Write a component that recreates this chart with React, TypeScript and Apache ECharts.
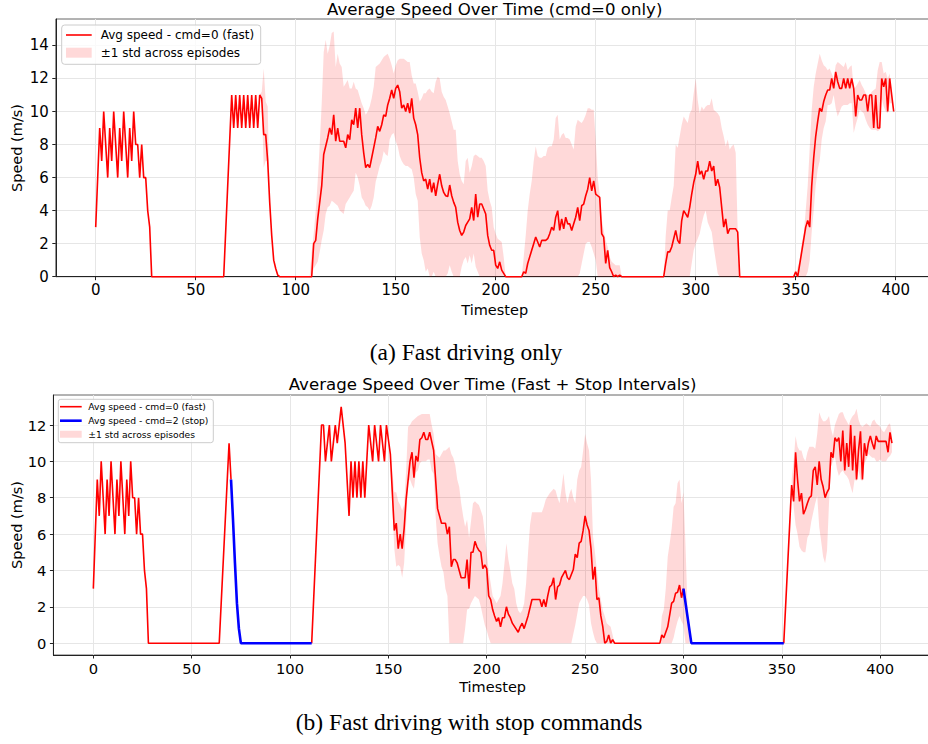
import React, { useEffect, useRef } from 'react';
import * as echarts from 'echarts';

const xTicks = [0, 50, 100, 150, 200, 250, 300, 350, 400];
const topYTicks = [0, 2, 4, 6, 8, 10, 12, 14];
const bottomYTicks = [0, 2, 4, 6, 8, 10, 12];

const topTitle = 'Average Speed Over Time (cmd=0 only)';
const bottomTitle = 'Average Speed Over Time (Fast + Stop Intervals)';
const captionA = '(a) Fast driving only';
const captionB = '(b) Fast driving with stop commands';
const legendFast = 'Avg speed - cmd=0 (fast)';
const legendStop = 'Avg speed - cmd=2 (stop)';
const legendStd = '±1 std across episodes';

// [timestep, speed]
const topFast = [
  [0,3],[1,6],[2,9],[3,7],[4,10],[5,8],[6,6],[7,9],[8,7],[9,10],[10,8],[11,6],[12,9],[13,7],[14,10],[15,8],[16,6],[17,9],[18,7],[19,10],[20,8],[21,8],[22,6],[23,8],[24,6],[25,6],[26,4],[27,3],[28,0],
  [64,0],[68,11],[69,9],[70,11],[71,9],[72,11],[73,9],[74,11],[75,9],[76,11],[77,9],[78,11],[79,9],[80,11],[81,9],[82,11],[83,10.8],[84,8.6],[85,8.6],[86,7],[87,4.5],[88,2.5],[89,1],[90,0.5],[91,0.1],[92,0],
  [108,0],[109,2],[110,2.2],[111,3.5],[112,4.5],[113,5.5],[114,7.4],[115,7.9],[116,8.4],[117,9],[118,8.6],[119,9.8],[120,8.2],[121,9],[122,8.2],[123,8.2],[124,8.2],[125,7.8],[126,8.6],[127,8.3],[128,9.5],[129,9.2],[130,10.2],[131,9],[132,10.2],[133,8.6],[134,7.5],[135,6.6],[136,6.8],[137,6.6],[138,7.2],[139,7.8],[140,8.4],[141,9.1],[142,8.8],[143,9.2],[144,9.8],[145,9.7],[146,10.4],[147,10.8],[148,11.3],[149,10.8],[150,11.4],[151,11.6],[152,11.2],[153,10.2],[154,10.4],[155,10],[156,10.5],[157,9.9],[158,10.8],[159,9.6],[160,9.2],[161,8.6],[162,7.2],[163,6.3],[164,5.8],[165,5.9],[166,5.3],[167,5.9],[168,5.1],[169,5.7],[170,4.9],[171,5.6],[172,6.2],[173,5.5],[174,5.1],[175,4.9],[176,4.85],[177,5.55],[178,4.9],[179,4.5],[180,4.2],[181,3.3],[182,2.8],[183,2.5],[184,2.7],[185,3.1],[186,3.3],[187,3.5],[188,4.2],[189,3.4],[190,5],[191,3.6],[192,4.4],[193,4.4],[194,4.1],[195,3.8],[196,2.5],[197,1.9],[198,1.6],[199,1.6],[200,0.7],[201,0.5],[202,0.9],[203,0.4],[204,0.2],[205,0],
  [213,0],[214,0.3],[215,0.2],[216,0.8],[217,1.2],[218,1.6],[219,2],[220,2.4],[221,2.1],[222,1.8],[223,2.2],[224,2.2],[225,2.2],[226,2.3],[227,2.6],[228,3],[229,2.8],[230,3.6],[231,4],[232,2.8],[233,3.5],[234,2.9],[235,3.6],[236,3.2],[237,3.2],[238,2.8],[239,3.2],[240,3.6],[241,4.2],[242,3.4],[243,4.3],[244,4.4],[245,4.9],[246,5.3],[247,6],[248,5.2],[249,5.8],[250,5],[251,4.9],[252,4.8],[253,2.6],[254,2.4],[255,0.8],[256,1.6],[257,0.55],[258,0.3],[259,0],[260,0.1],[261,0],[262,0.1],[263,0],
  [284,0],[285,0.8],[286,1.5],[287,1.5],[288,1.8],[289,2.3],[290,2.8],[291,2.2],[292,2],[293,3.4],[294,4],[295,3.8],[296,3.6],[297,4.2],[298,5],[299,5.7],[300,6.2],[301,7],[302,6.2],[303,6.4],[304,5.9],[305,6.4],[306,6.4],[307,7],[308,6.4],[309,6.7],[310,5.5],[311,5.9],[312,5.4],[313,4.2],[314,3],[315,3.5],[316,2.6],[317,2.9],[318,2.9],[319,2.9],[320,2.9],[321,2.7],[322,0],
  [349,0],[350,0.3],[351,0],[353,1.5],[355,3],[356,3.4],[357,3],[358,5.5],[359,7.2],[360,8.5],[361,9.4],[362,10.2],[363,10],[364,10.6],[365,11],[366,11.3],[367,11.3],[368,12],[369,11.4],[370,12.4],[371,11.8],[372,11.4],[373,11.4],[374,12],[375,11.4],[376,12],[377,11.4],[378,12],[379,11.4],[380,9.7],[381,11],[382,10.7],[383,10.7],[384,11],[385,11],[386,10],[387,11],[388,11],[389,9],[390,11],[391,9],[392,9],[393,12],[394,11.5],[395,12],[396,10],[397,12],[398,11],[399,10],
];

// [timestep, lower, upper]
const topBand1 = [[82,11,11],[83,10.6,11.2],[84,6.6,12.6],[85,7,10.6],[86,7,10.3],[87,4.5,4.6]];
const topBand2 = [
  [107,0,0],[108,0,1.5],[109,0.5,2.6],[110,0.7,4],[111,0.9,5.8],[112,1.5,8],[113,2.2,10.5],[114,2.8,13.6],[115,3.8,14.35],[116,4.2,13.5],[117,4.3,14],[118,4.6,14.75],[119,4.5,14.85],[120,4.4,12.7],[121,4.3,13.5],[122,4,12.9],[123,3.9,12.7],[124,3.8,11.5],[125,4.4,11.7],[126,4.6,11.9],[127,4.8,11.4],[128,5,11.4],[129,5.2,11.8],[130,6.3,11.4],[131,6,11.3],[132,5.5,10.9],[133,4.8,10.5],[134,4.6,10.2],[135,4.3,9.8],[136,4.2,10],[137,4,10.3],[138,4.3,10.8],[139,4.8,11.5],[140,5.75,12.7],[141,6.2,12.8],[142,6.7,12.9],[143,7,13.1],[144,7.6,13.3],[145,7.4,13.4],[146,7.3,13.5],[147,8.3,13.2],[148,8.6,12.8],[149,8.7,12.3],[150,8.2,12.8],[151,7.9,13.1],[152,7.3,13.2],[153,7,13.2],[154,6.8,13.2],[155,6.7,13.1],[156,6.7,13],[157,6.6,13],[158,6.5,12.2],[159,6,11.7],[160,5,11.7],[161,4.6,11.2],[162,2.4,10.6],[163,1.4,10.8],[164,1,11.1],[165,0.3,11.1],[166,0.5,11.3],[167,0,11.4],[168,0,11.2],[169,0.3,11.1],[170,0,11.8],[171,0,12.1],[172,0,12],[173,0,11.2],[174,0,10.9],[175,0,10.7],[176,0.2,10.3],[177,0.7,9.9],[178,0.3,9.4],[179,0,8.9],[180,0,8.9],[181,0,7],[182,0,6.2],[183,0.6,5.8],[184,1,5.6],[185,1.2,7],[186,0.8,7.2],[187,1.3,6.3],[188,0.8,6.7],[189,1.4,7.3],[190,0.6,7.4],[191,0.3,7.3],[192,0,7.2],[193,0,7.2],[194,0,7],[195,0,6.7],[196,0,5.2],[197,0,4.6],[198,0,4.2],[199,0,3],[200,0,2.6],[201,0,2.3],[202,0,2.2],[203,0,2.1],[204,0,1.2],[205,0,0],
];
const topBand3 = [
  [213,0,0],[214,0,1.2],[215,0,2.5],[216,0,4],[217,0,5],[218,0,5.8],[219,0,7],[220,0,7.9],[221,0,7.3],[222,0,7.2],[223,0,7.2],[224,0,7.3],[225,0,7.3],[226,0,7.8],[227,0,7.9],[228,0,7.9],[229,0,8.3],[230,0,9.6],[231,0,9.8],[232,0,8.3],[233,0,8.6],[234,0,8.7],[235,0,8.4],[236,0,8.4],[237,0,8.3],[238,0,8],[239,0,7.7],[240,0,9.1],[241,0,9.5],[242,0.2,9.4],[243,0.8,9.3],[244,1.4,9.5],[245,2,9.8],[246,2.1,10.2],[247,2.1,10.2],[248,1.8,10.1],[249,1.4,10.1],[250,1,8.3],[251,0,6],[252,0,5],[253,0,3.5],[254,0,2.8],[255,0,2.2],[256,0,1.8],[257,0,1.2],[258,0,0.9],[259,0,0.8],[260,0,0.7],[261,0,0.7],[262,0,0.7],[263,0,0],
];
const topBand4 = [
  [284,0,0],[285,0,2.5],[286,0,4],[287,0,4],[288,0,4.8],[289,0,5.5],[290,0,8],[291,0,7.8],[292,0,8.5],[293,0,9.2],[294,0,9.7],[295,0,9.5],[296,0,9.3],[297,0,9.9],[298,0.8,10.1],[299,1.6,11.1],[300,2,12],[301,2.3,10.7],[302,2.6,9.9],[303,3.2,10.3],[304,3.7,10.1],[305,4,10.3],[306,3.3,10.4],[307,3,10.4],[308,2.7,10.8],[309,1.8,10.1],[310,1,10],[311,0.2,9.9],[312,0,9.7],[313,0,9],[314,0,8.5],[315,0,7.9],[316,0,8.3],[317,0,7.7],[318,0,7.9],[319,0,8],[320,0,7.5],[321,0,2.7],[322,0,0],
];
const topBand5 = [
  [350,0,0],[351,0,0.6],[352,0,1],[353,0,2],[354,0,2.6],[355,0,4],[356,0.3,5.5],[357,1,7.8],[358,2.7,10.1],[359,4,11.5],[360,5.5,12.3],[361,6.5,12.9],[362,7,13.5],[363,8.3,13.1],[364,9,12.8],[365,9.4,12.7],[366,10.4,12.5],[367,10.4,12.6],[368,10.5,12.3],[369,11,12],[370,10.2,12.8],[371,9.7,13],[372,10,12.9],[373,10.3,12.8],[374,10.4,12.7],[375,10.4,13],[376,10.4,12.5],[377,10.5,12.7],[378,10.5,12.8],[379,8.7,11.3],[380,9.2,11.5],[381,9.6,11.7],[382,10.1,11.9],[383,10,11.6],[384,9.9,11.4],[385,9.5,11.1],[386,9.2,11],[387,9,11],[388,8.9,11.2],[389,8.9,11.3],[390,8.9,11.4],[391,8.8,12.5],[392,8.9,13],[393,10.8,13],[394,10.3,12.3],[395,10,12.4],[396,9.9,12],[397,10.5,12.3],[398,10.5,11.1],[399,9.9,10.1],
];

const bottomFast1 = [
  [0,3],[1,6],[2,9],[3,7],[4,10],[5,8],[6,6],[7,9],[8,7],[9,10],[10,8],[11,6],[12,9],[13,7],[14,10],[15,8],[16,6],[17,9],[18,7],[19,10],[20,8],[21,8],[22,6],[23,8],[24,6],[25,6],[26,4],[27,3],[28,0],[64,0],[69,11],[70,9],
];
const bottomStop1 = [[70,9],[71,6.8],[72,4.4],[73,2.2],[74,0.8],[75,0],[111,0]];
const bottomFast2 = [
  [111,0],[116,12],[117,12],[118,10],[120,12],[121,10],[123,12],[124,11],[126,13],[128,11],[130,7],[131,10],[132,8],[133,10],[134,8],[135,10],[136,8],[137,10],[138,8],[139,10],[140,12],[142,10],[143,12],[145,10],[146,12],[148,10],[149,12],[151,10.4],[152,8.3],[153,6.2],[154,6.6],[155,5.2],[156,6],[157,5.2],[158,6.3],[159,7.9],[161,10],[162,10.5],[163,9.1],[164,10.3],[165,10],[166,11.2],[167,11.3],[168,11.6],[169,11.2],[170,11.2],[171,11.6],[173,10.6],[174,9],[175,7.4],[177,6.6],[179,6.6],[180,6],[181,6.4],[182,4.2],[183,4.6],[184,4.6],[185,4.4],[187,3.6],[189,3.6],[190,4.6],[191,3],[192,5],[193,5],[194,5.6],[195,5.3],[196,5.1],[197,5],[198,4.1],[199,4.3],[200,4.1],[201,2.6],[202,2.4],[203,1.85],[204,1.5],[205,1.2],[206,1.4],[207,0.9],[208,1.4],[209,1.4],[210,2],[211,1.6],[212,1.4],[213,1.1],[216,0.6],[217,0.9],[218,1.1],[219,0.8],[221,1.5],[223,2.4],[227,2.4],[228,2],[229,2.4],[230,2],[231,2.6],[232,3.1],[233,3.2],[234,3.6],[235,2.4],[236,3.1],[237,3.2],[238,3.6],[240,4],[241,3.6],[242,3.5],[244,4.05],[245,4.9],[246,4.7],[247,5.5],[248,5.6],[249,6.2],[250,7],[251,6.5],[252,6.2],[253,5.2],[254,3.5],[255,4.2],[256,2.4],[257,2.5],[258,1.5],[259,0.9],[260,0],[261,0.1],[262,0.45],[263,0],[264,0.2],[265,0],[288,0],[289,0.45],[290,0.3],[292,0.9],[294,2.2],[295,2.3],[296,2.75],[297,2.8],[298,3.2],[299,2.5],[300,3],
];
const bottomStop2 = [[300,3],[304,0],[351,0]];
const bottomFast3 = [
  [351,0],[355,8.7],[356,7.8],[357,10.5],[358,9],[359,7.8],[360,8.25],[361,7.1],[362,7.35],[363,7.7],[364,8],[365,8.1],[366,9.5],[367,9.7],[368,8.7],[369,10],[370,9],[371,8.6],[372,8],[373,8.3],[374,8.5],[375,10.5],[376,10.2],[377,11.3],[378,11.1],[379,11.3],[380,10],[381,11.7],[382,9.5],[383,11],[384,9.7],[385,12],[386,9.5],[387,11.4],[388,9],[389,10.6],[390,11.65],[391,9],[392,11],[393,10.3],[394,11],[395,11.4],[396,11],[397,10.66],[398,11.4],[399,11.1],[401,11.1],[403,11.1],[404,10.5],[405,11.6],[406,11],
];

const bottomBand1 = [
  [151,10.4,10.4],[152,7.5,9.5],[153,5.2,8.3],[154,4.2,8.3],[155,4.3,7.8],[156,4.2,7.6],[157,3.6,7.3],[158,4.4,7.6],[159,6.5,9.5],[160,8.9,11.9],[161,9,12],[162,8.7,12.2],[163,8.5,12.3],[164,9.4,12.4],[165,9.5,12.5],[166,9.9,12.55],[167,10,12.6],[168,10,12.6],[169,10,12.6],[170,10.1,12.6],[171,10.1,12.6],[172,9.5,12],[173,9.3,11.5],[174,7,10.4],[175,5.5,10.3],[176,4.8,10.2],[177,4.2,10.4],[178,3.9,10.6],[179,3,10.6],[180,2.6,10.7],[181,0,10.8],[182,0,10.4],[183,0,10.2],[184,0,9.8],[185,0,9],[186,0,8.6],[187,0,7.7],[188,0,7],[189,0.8,6.4],[190,1.85,6.8],[191,1.9,5.8],[192,2.2,6.7],[193,2.4,7.7],[194,2.6,7.8],[195,2.5,7.7],[196,2.4,7.6],[197,2,7.3],[198,1.5,6.97],[199,1,6],[200,0.7,5],[201,0.3,4],[202,0,3.3],[203,0,2.6],[204,0,2.4],[205,0,2.2],[206,0,2.4],[207,0,2.6],[208,0,3.3],[209,0,4.4],[210,0,5.5],[211,0,4.6],[212,0,4],[213,0,3.3],[214,0,3],[215,0,2.2],[216,0,1.8],[217,0,1.65],[218,0,1.8],[219,0,2.2],[220,0,3.3],[221,0,5],[222,0,6.5],[223,0,7.2],[228,0,7.2],[229,0,7.5],[230,0,7.9],[232,0,8.25],[234,0,8.5],[235,0,8.4],[236,0,8],[237,0,7.7],[238,0,8.5],[239,0,9.35],[240,0,8.3],[241,0,7.7],[242,0,8.2],[243,0,8.5],[244,0.5,8],[245,1,7.7],[246,1.6,9],[247,2.2,9.5],[248,2.4,9.7],[249,2.6,10.6],[250,2.6,11.5],[251,2.4,11],[252,2.1,10.6],[253,1.1,9],[254,0.6,5.9],[255,0.2,5],[256,0,4],[257,0,3],[258,0,2.4],[259,0,1.8],[260,0,1.5],[261,0,1.1],[262,0,1],[263,0,0.9],[264,0,0.45],[265,0,0],
];
const bottomBand2 = [
  [288,0,0],[289,0,1.5],[290,0,1.85],[291,0,3],[292,0,4.75],[293,0,5.5],[294,0,6.3],[295,0.3,7.5],[296,0.8,7.7],[297,1.2,8.8],[298,1.5,9],[299,1.2,7.7],[300,1,8.3],[301,0,5.5],[302,0,2.2],[303,0,0],
];
const bottomBand3 = [
  [355,8.6,9],[356,7.5,10],[357,6.5,11.4],[358,6,10.8],[359,5.3,10.6],[360,5.1,10.6],[361,5,10.2],[362,5,10],[363,5.8,10.5],[364,6,10.8],[365,6.7,10.8],[366,7.2,10.8],[367,7.7,10.7],[368,8.1,11.5],[369,6.4,12.7],[370,5.6,12.4],[371,4.75,12.2],[372,4.4,12.2],[373,5.1,12.3],[374,7.7,12.5],[375,9.7,11.8],[376,10,11.4],[377,10.25,12],[378,9.6,12.3],[379,9.2,12.6],[380,9.4,12.7],[381,9.5,12.7],[382,9.3,12.4],[383,9.2,12.2],[384,9,12],[385,8.6,12.3],[386,8.25,12.5],[387,9,12.6],[388,8.9,12.9],[389,9.5,12.3],[390,9,12],[391,8.9,11.9],[392,9.9,12],[393,10.1,12.1],[394,10.4,12],[395,10.3,11.9],[396,10.2,12.2],[397,10.2,12.3],[398,10,12.1],[399,10,12],[400,10.1,11.9],[401,10,11.7],[402,10,11.6],[403,10,11.8],[404,10.2,12],[405,10.3,12.1],[406,10.5,11.5],
];

const topBands = [topBand1, topBand2, topBand3, topBand4, topBand5];
const bottomBands = [bottomBand1, bottomBand2, bottomBand3];

const RED = '#ff0000';
const BLUE = '#0000ff';
const BAND = 'rgba(255,0,0,0.15)';
const FONT = 'DejaVu Sans';

function bandSeries(bands: number[][][], gridIdx: number) {
  return {
    type: 'custom',
    xAxisIndex: gridIdx,
    yAxisIndex: gridIdx,
    silent: true,
    z: 1,
    data: bands.map((_, i) => [i, 0]),
    renderItem: (params: any, api: any) => {
      const seg = bands[params.dataIndex];
      const pts: number[][] = [];
      for (let i = 0; i < seg.length; i++) pts.push(api.coord([seg[i][0], seg[i][2]]));
      for (let i = seg.length - 1; i >= 0; i--) pts.push(api.coord([seg[i][0], seg[i][1]]));
      return { type: 'polygon', shape: { points: pts }, style: { fill: BAND, stroke: 'none' } };
    },
  };
}

function lineSeries(data: number[][], gridIdx: number, color: string, width: number) {
  return {
    type: 'line',
    xAxisIndex: gridIdx,
    yAxisIndex: gridIdx,
    data,
    showSymbol: false,
    symbol: 'none',
    clip: false,
    silent: true,
    z: color === BLUE ? 4 : 3,
    lineStyle: { color, width },
  };
}

function xAxisDef(gridIdx: number, min: number, max: number, fs: number) {
  return {
    type: 'value',
    gridIndex: gridIdx,
    min,
    max,
    axisLine: { show: true, onZero: false, lineStyle: { color: '#222', width: 1 } },
    axisTick: { show: true, length: 3.5, customValues: xTicks, lineStyle: { color: '#222' } },
    axisLabel: { customValues: xTicks, margin: 6, fontFamily: FONT, fontSize: fs, color: '#000' },
    splitLine: { show: true, lineStyle: { color: '#e6e6e6', width: 1 } },
  };
}

function yAxisDef(gridIdx: number, min: number, max: number, ticks: number[], fs: number) {
  return {
    type: 'value',
    gridIndex: gridIdx,
    min,
    max,
    axisLine: { show: true, onZero: false, lineStyle: { color: '#222', width: 1 } },
    axisTick: { show: true, length: 3.5, customValues: ticks, lineStyle: { color: '#222' } },
    axisLabel: { customValues: ticks, margin: 7, fontFamily: FONT, fontSize: fs, color: '#000' },
    splitLine: { show: true, lineStyle: { color: '#e6e6e6', width: 1 } },
  };
}

function txt(text: string, x: number, y: number, size: number, opts: any = {}) {
  return {
    type: 'text',
    x,
    y,
    rotation: opts.rotation || 0,
    silent: true,
    z: 100,
    style: {
      text,
      fill: opts.fill || '#000',
      fontFamily: opts.family || FONT,
      fontSize: size,
      align: opts.align || 'center',
      verticalAlign: 'middle',
    },
  };
}

export default function App() {
  const ref = useRef<HTMLDivElement>(null);
  useEffect(() => {
    if (!ref.current) return;
    const chart = echarts.init(ref.current, null, { renderer: 'svg' });
    const g0 = { left: 55.8, top: 19, width: 877.8, height: 257.7 };
    const g1 = { left: 53.4, top: 395, width: 878.5, height: 260 };
    chart.setOption({
      animation: false,
      backgroundColor: '#ffffff',
      grid: [
        { ...g0, show: true, borderColor: '#666', borderWidth: 1, backgroundColor: 'transparent' },
        { ...g1, show: true, borderColor: '#666', borderWidth: 1, backgroundColor: 'transparent' },
      ],
      xAxis: [xAxisDef(0, -19.95, 418.95, 15), xAxisDef(1, -20.3, 426.3, 14.7)],
      yAxis: [yAxisDef(0, 0, 15.6, topYTicks, 15), yAxisDef(1, -0.65, 13.65, bottomYTicks, 14.7)],
      series: [
        bandSeries(topBands, 0),
        lineSeries(topFast, 0, RED, 1.6),
        bandSeries(bottomBands, 1),
        lineSeries(bottomFast1, 1, RED, 1.6),
        lineSeries(bottomFast2, 1, RED, 1.6),
        lineSeries(bottomFast3, 1, RED, 1.6),
        lineSeries(bottomStop1, 1, BLUE, 2.6),
        lineSeries(bottomStop2, 1, BLUE, 2.6),
      ],
      graphic: [
        txt(topTitle, 494.7, 9.5, 16.6),
        txt(bottomTitle, 492.6, 384, 16.6),
        txt('Timestep', 494.7, 310, 14.5),
        txt('Timestep', 492.6, 687, 14.5),
        txt('Speed (m/s)', 17, 148, 14.5, { rotation: Math.PI / 2 }),
        txt('Speed (m/s)', 17, 525, 14.5, { rotation: Math.PI / 2 }),
        txt(captionA, 466, 352, 23.5, { family: 'Liberation Serif' }),
        txt(captionB, 469, 722, 23.5, { family: 'Liberation Serif' }),
        // top legend
        { type: 'rect', z: 90, silent: true, shape: { x: 61.7, y: 25, width: 199, height: 39.3, r: 3 }, style: { fill: 'rgba(255,255,255,0.8)', stroke: '#cccccc', lineWidth: 1 } },
        { type: 'line', z: 91, silent: true, shape: { x1: 66, y1: 35, x2: 91.7, y2: 35 }, style: { stroke: RED, lineWidth: 1.6 } },
        { type: 'rect', z: 91, silent: true, shape: { x: 66, y: 47.7, width: 25.7, height: 10 }, style: { fill: BAND } },
        txt(legendFast, 100.7, 35, 12, { align: 'left' }),
        txt(legendStd, 100.7, 52.7, 12, { align: 'left' }),
        // bottom legend
        { type: 'rect', z: 90, silent: true, shape: { x: 58.3, y: 399.3, width: 155, height: 43.4, r: 2.5 }, style: { fill: 'rgba(255,255,255,0.8)', stroke: '#cccccc', lineWidth: 1 } },
        { type: 'line', z: 91, silent: true, shape: { x1: 60, y1: 406.7, x2: 81.7, y2: 406.7 }, style: { stroke: RED, lineWidth: 1.6 } },
        { type: 'line', z: 91, silent: true, shape: { x1: 60, y1: 420.7, x2: 81.7, y2: 420.7 }, style: { stroke: BLUE, lineWidth: 2.6 } },
        { type: 'rect', z: 91, silent: true, shape: { x: 60, y: 430.7, width: 21.7, height: 7 }, style: { fill: BAND } },
        txt(legendFast, 88.3, 406.7, 9.2, { align: 'left' }),
        txt(legendStop, 88.3, 420.7, 9.2, { align: 'left' }),
        txt(legendStd, 88.3, 434.2, 9.2, { align: 'left' }),
      ],
    });
    return () => chart.dispose();
  }, []);
  return (
    <div style={{ position: 'absolute', left: 0, top: 0, width: 928, height: 744, overflow: 'hidden' }}>
      <div ref={ref} style={{ width: 945, height: 744 }} />
    </div>
  );
}
